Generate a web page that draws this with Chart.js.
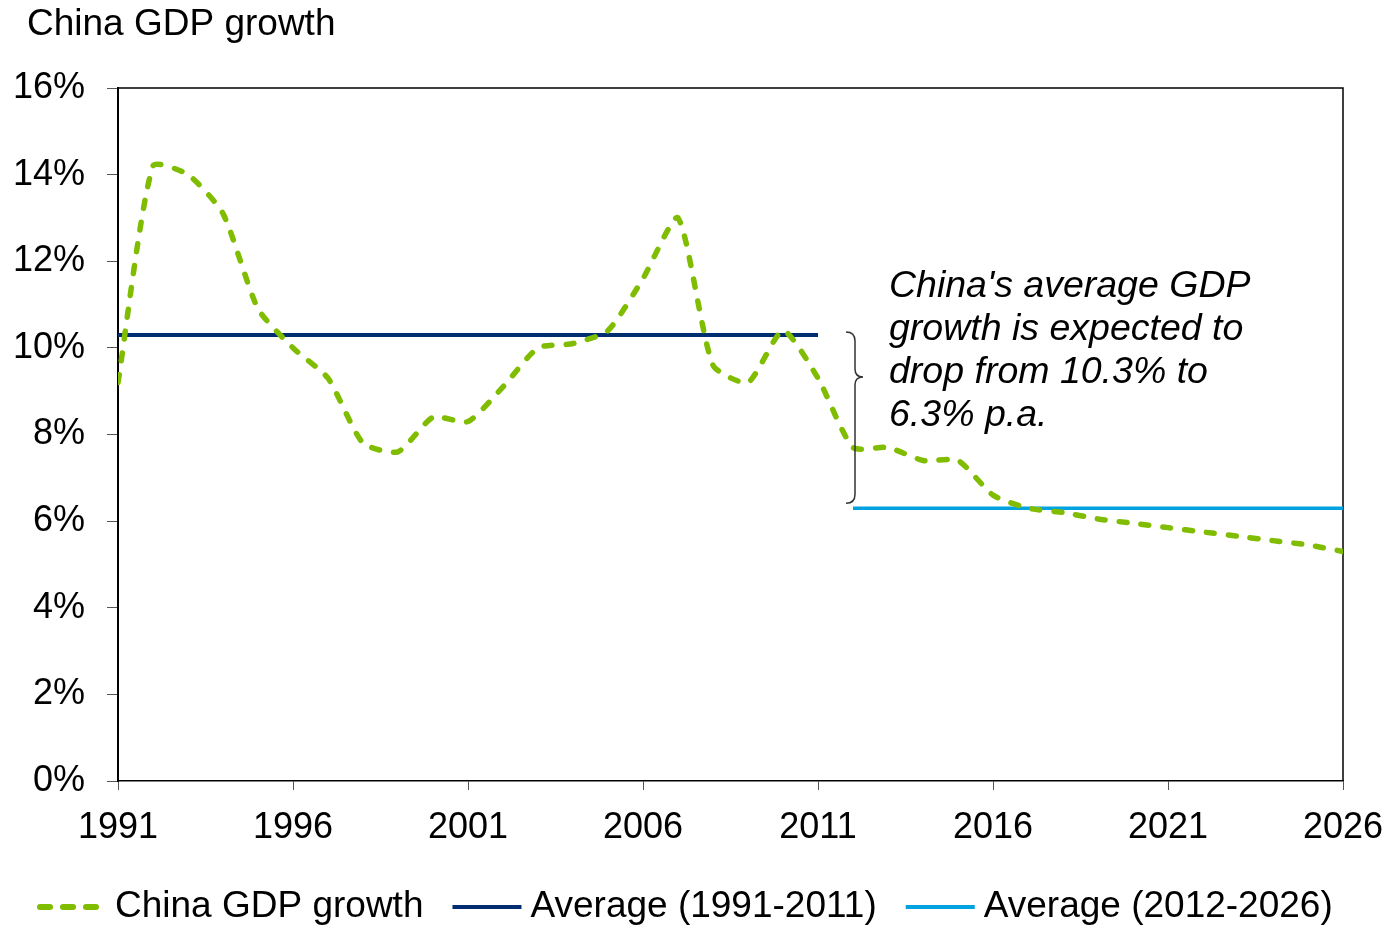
<!DOCTYPE html>
<html>
<head>
<meta charset="utf-8">
<script src="https://cdn.jsdelivr.net/npm/chart.js@4.4.1/dist/chart.umd.min.js"></script>
<style>
  html, body { margin: 0; padding: 0; background: #fff; }
  #chart { display: block; }
</style>
</head>
<body>
<canvas id="chart" width="1391" height="927"></canvas>
<script>
// data
const years = [1991, 1992, 1993, 1994, 1995, 1996, 1997, 1998, 1999, 2000,
               2001, 2002, 2003, 2004, 2005, 2006, 2007, 2008, 2009, 2010,
               2011, 2012, 2013, 2014, 2015, 2016, 2017, 2018, 2019, 2020,
               2021, 2022, 2023, 2024, 2025, 2026];
const gdpGrowth = [9.2, 14.2, 14.0, 13.1, 10.9, 10.0, 9.3, 7.8, 7.6, 8.4,
                   8.3, 9.1, 10.0, 10.1, 10.4, 11.6, 13.0, 9.6, 9.2, 10.4,
                   9.3, 7.7, 7.7, 7.4, 7.4, 6.6, 6.3, 6.2, 6.05, 5.95,
                   5.85, 5.75, 5.65, 5.55, 5.45, 5.3];
const avgEarlyYears = [1991, 2011];
const avgEarly = 10.3;
const avgLateYears = [2012, 2026];
const avgLate = 6.3;
const xTicks = [1991, 1996, 2001, 2006, 2011, 2016, 2021, 2026];
const yTicks = [0, 2, 4, 6, 8, 10, 12, 14, 16];

const seriesNames = ['China GDP growth', 'Average (1991-2011)', 'Average (2012-2026)'];
const GREEN = '#80BC00';
const NAVY = '#002D72';
const LIGHTBLUE = '#00A3E0';
const FONT = 'Arial, "Liberation Sans", sans-serif';

const gdpPoints = years.map((yr, i) => ({ x: yr, y: gdpGrowth[i] }));
const earlyPoints = avgEarlyYears.map(yr => ({ x: yr, y: avgEarly }));
const latePoints = avgLateYears.map(yr => ({ x: yr, y: avgLate }));

// frame on top and right of plot area
const framePlugin = {
    id: 'frame',
    beforeDatasetsDraw(chart) {
        const { ctx, chartArea: a } = chart;
        ctx.save();
        ctx.strokeStyle = '#000';
        ctx.lineWidth = 1.5;
        ctx.beginPath();
        ctx.moveTo(a.left, a.top);
        ctx.lineTo(a.right, a.top);
        ctx.lineTo(a.right, a.bottom);
        ctx.stroke();
        ctx.restore();
    }
};

// title, brace + note, legend
const extrasPlugin = {
    id: 'extras',
    afterDraw(chart) {
        const { ctx } = chart;
        const xs = chart.scales.x, ys = chart.scales.y;
        ctx.save();

        // title
        ctx.fillStyle = '#000';
        ctx.font = '37px ' + FONT;
        ctx.textBaseline = 'middle';
        ctx.textAlign = 'left';
        ctx.fillText('China GDP growth', 27, 25);

        // brace
        const bx = xs.getPixelForValue(2012) + 2;
        const yT = ys.getPixelForValue(avgEarly) - 3;
        const yB = ys.getPixelForValue(avgLate) - 5;
        const yM = yT + 45;
        ctx.strokeStyle = '#333';
        ctx.lineWidth = 1.5;
        ctx.beginPath();
        ctx.moveTo(bx - 9, yT);
        ctx.quadraticCurveTo(bx, yT, bx, yT + 9);
        ctx.lineTo(bx, yM - 8);
        ctx.quadraticCurveTo(bx, yM, bx + 8, yM);
        ctx.quadraticCurveTo(bx, yM, bx, yM + 8);
        ctx.lineTo(bx, yB - 9);
        ctx.quadraticCurveTo(bx, yB, bx - 9, yB);
        ctx.stroke();

        // note
        const note = ["China's average GDP", 'growth is expected to', 'drop from 10.3% to', '6.3% p.a.'];
        ctx.font = 'italic 37.5px ' + FONT;
        note.forEach((line, i) => ctx.fillText(line, bx + 34, 287 + i * 43));

        // legend
        const colors = [GREEN, NAVY, LIGHTBLUE];
        const ly = 907;
        let lx = 37;
        ctx.font = '37px ' + FONT;
        seriesNames.forEach((name, i) => {
            ctx.strokeStyle = colors[i];
            ctx.beginPath();
            if (i === 0) {
                ctx.lineWidth = 6;
                ctx.lineCap = 'round';
                ctx.setLineDash([10, 13]);
                ctx.moveTo(lx + 3, ly);
                ctx.lineTo(lx + 66, ly);
            } else {
                ctx.lineWidth = 4;
                ctx.lineCap = 'butt';
                ctx.setLineDash([]);
                ctx.moveTo(lx, ly);
                ctx.lineTo(lx + 69, ly);
            }
            ctx.stroke();
            ctx.setLineDash([]);
            ctx.fillStyle = '#000';
            ctx.fillText(name, lx + 78, ly);
            lx += 78 + ctx.measureText(name).width + 29;
        });
        ctx.restore();
    }
};

const ctx = document.getElementById('chart').getContext('2d');
new Chart(ctx, {
    type: 'line',
    data: {
        datasets: [
            {
                label: seriesNames[0],
                data: gdpPoints,
                borderColor: GREEN,
                borderWidth: 5.5,
                borderDash: [8, 14],
                borderCapStyle: 'round',
                tension: 0.2,
                pointRadius: 0,
                fill: false
            },
            {
                label: seriesNames[1],
                data: earlyPoints,
                borderColor: NAVY,
                borderWidth: 4,
                pointRadius: 0,
                fill: false
            },
            {
                label: seriesNames[2],
                data: latePoints,
                borderColor: LIGHTBLUE,
                borderWidth: 3.5,
                pointRadius: 0,
                fill: false
            }
        ]
    },
    options: {
        responsive: false,
        animation: false,
        layout: { padding: { top: 88, right: 48, left: 0, bottom: 0 } },
        plugins: {
            legend: { display: false },
            tooltip: { enabled: false }
        },
        scales: {
            x: {
                type: 'linear',
                min: 1991,
                max: 2026,
                afterBuildTicks: scale => { scale.ticks = xTicks.map(v => ({ value: v })); },
                afterFit: scale => {
                    scale.height = 927 - 781;
                    scale.paddingLeft = 0;
                    scale.paddingRight = 0;
                },
                ticks: {
                    color: '#000',
                    font: { size: 36, family: FONT },
                    padding: 16,
                    maxRotation: 0,
                    autoSkip: false,
                    callback: v => String(v)
                },
                grid: { drawOnChartArea: false, drawTicks: true, tickLength: 9, color: '#555' },
                border: { display: true, color: '#000', width: 1.5 }
            },
            y: {
                min: 0,
                max: 16,
                afterBuildTicks: scale => { scale.ticks = yTicks.map(v => ({ value: v })); },
                afterFit: scale => {
                    scale.width = 118;
                    scale.paddingTop = 0;
                    scale.paddingBottom = 0;
                },
                ticks: {
                    color: '#000',
                    font: { size: 36, family: FONT },
                    padding: 22,
                    callback: v => v + '%'
                },
                grid: { drawOnChartArea: false, drawTicks: true, tickLength: 11, color: '#555' },
                border: { display: true, color: '#000', width: 2 }
            }
        }
    },
    plugins: [framePlugin, extrasPlugin]
});
</script>
</body>
</html>
